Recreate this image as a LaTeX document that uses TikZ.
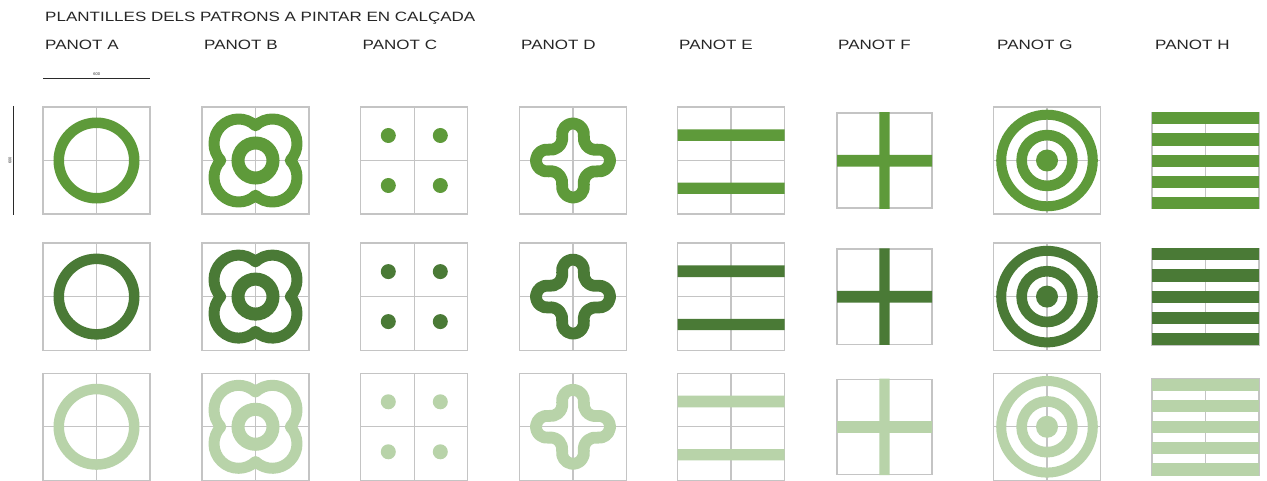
\documentclass[tikz,border=0pt]{standalone}
\usepackage{fontspec}
\setmainfont{Liberation Sans}
\newfontfamily\lblfont[FakeStretch=1.26]{Liberation Sans}
\definecolor{gOne}{HTML}{5E9A3A}
\definecolor{gTwo}{HTML}{4A7A36}
\definecolor{gThree}{HTML}{B8D3A9}
\definecolor{gridc}{HTML}{C4C4C4}
\definecolor{dimc}{HTML}{2A2A2A}
\tikzset{
  boxline/.style={draw=gridc, line width=1.2pt},
  lbl/.style={anchor=base west, inner sep=0pt, font=\lblfont\fontsize{13.5}{15}\selectfont, text=black!85},
  dimline/.style={draw=dimc, line width=1.3pt},
  dimtxt/.style={inner sep=0pt, font=\fontsize{4}{4}\selectfont, text=dimc},
}
% #1 cx, #2 cy (y up), #3 colour
\newcommand\gridsq[2]{\draw[boxline] (#1-53.5,#2-53.5) rectangle (#1+53.5,#2+53.5) (#1-53.5,#2)--(#1+53.5,#2) (#1,#2-53.5)--(#1,#2+53.5);}
\newcommand\patA[3]{\gridsq{#1}{#2}
  \draw[#3, line width=10.5pt] (#1,#2) circle[radius=37.75pt];}
\newcommand\patB[3]{\gridsq{#1}{#2}
  \begin{scope}[shift={(#1,#2)}]
  \draw[#3, line width=11pt, line join=round] (34.75,0) \foreach \r in {0,90,180,270}{ arc[start angle=\r-43.5, end angle=\r+133.5, radius=24.58pt] } -- cycle;
  \draw[#3, line width=13pt] (0,0) circle[radius=17.5pt];
  \end{scope}}
\newcommand\patC[3]{\gridsq{#1}{#2}
  \begin{scope}[shift={(#1,#2)}]
  \fill[#3] (-26,25) circle[radius=7.5pt] (26,25) circle[radius=7.5pt] (-26,-25) circle[radius=7.5pt] (26,-25) circle[radius=7.5pt];
  \end{scope}}
\newcommand\patD[3]{\gridsq{#1}{#2}
  \begin{scope}[shift={(#1,#2)}]
  \draw[#3, line width=11.8pt, line join=round] (24.26,-10.86) \foreach \r in {0,90,180,270}{ arc[start angle=\r-99.1, end angle=\r+99.1, radius=11pt] arc[start angle=\r-80.9, end angle=\r-189.1, radius=11.7pt] } -- cycle;
  \end{scope}}
\newcommand\patE[3]{\gridsq{#1}{#2}
  \begin{scope}[shift={(#1,#2)}]
  \fill[#3] (-53.5,19.5) rectangle (53.5,31.2) (-53.5,-22.2) rectangle (53.5,-33.5);
  \end{scope}}
\newcommand\patF[3]{\begin{scope}[shift={(#1,#2)}]
  \draw[boxline] (-47.5,-47.5) rectangle (47.5,47.5);
  \fill[#3] (-5.2,-48.3) rectangle (5.2,48.3) (-47.5,-6.1) rectangle (47.5,5.6);
  \end{scope}}
\newcommand\patG[3]{\gridsq{#1}{#2}
  \begin{scope}[shift={(#1,#2)}]
  \fill[#3] (0,0) circle[radius=11pt];
  \draw[#3, line width=10.6pt] (0,0) circle[radius=25.4pt];
  \draw[#3, line width=10pt] (0,0) circle[radius=45.8pt];
  \end{scope}}
\newcommand\patH[3]{\begin{scope}[shift={(#1,#2)}]
  \draw[boxline] (-53.5,-48.3) rectangle (53.5,48.3) (0,-48.3)--(0,48.3);
  \foreach \k in {0,...,4}{\fill[#3] (-53.8,48.3-\k*21.2) rectangle (53.8,48.3-\k*21.2-12.2);}
  \end{scope}}
\begin{document}
\begin{tikzpicture}[x=1pt,y=1pt]
\useasboundingbox[fill=white] (0,0) rectangle (1267,-481);
\node[lbl] (title) at (45,-21.7) {PLANTILLES DELS PATRONS A PINTAR EN CALÇADA};
\node[lbl] (la) at (45,-49.3) {PANOT A};
\node[lbl] (lb) at (204,-49.3) {PANOT B};
\node[lbl] (lc) at (362.5,-49.3) {PANOT C};
\node[lbl] (ld) at (521,-49.3) {PANOT D};
\node[lbl] (le) at (679,-49.3) {PANOT E};
\node[lbl] (lf) at (838,-49.3) {PANOT F};
\node[lbl] (lg) at (997,-49.3) {PANOT G};
\node[lbl] (lh) at (1155,-49.3) {PANOT H};
% dimensions
\coordinate (h1) at (43.3,-78.3);
\coordinate (h2) at (150,-78.3);
\coordinate (v1) at (13.5,-106);
\coordinate (v2) at (13.5,-215);
\draw[dimline] (h1) -- (h2);
\draw[dimline] (v1) -- (v2);
\node[dimtxt, anchor=base] (dh) at (96.7,-76) {600};
\node[dimtxt, anchor=base, rotate=90] (dv) at (11.5,-160.5) {600};
% rows
\foreach \ry/\c in {-160.5/gOne,-296.6/gTwo,-426.8/gThree}{
  \patA{96.5}{\ry}{\c}
  \patB{255.5}{\ry}{\c}
  \patC{414.3}{\ry}{\c}
  \patD{573}{\ry}{\c}
  \patE{731}{\ry}{\c}
  \patF{884.5}{\ry}{\c}
  \patG{1047}{\ry}{\c}
  \patH{1205.5}{\ry}{\c}
}
\end{tikzpicture}
\end{document}
